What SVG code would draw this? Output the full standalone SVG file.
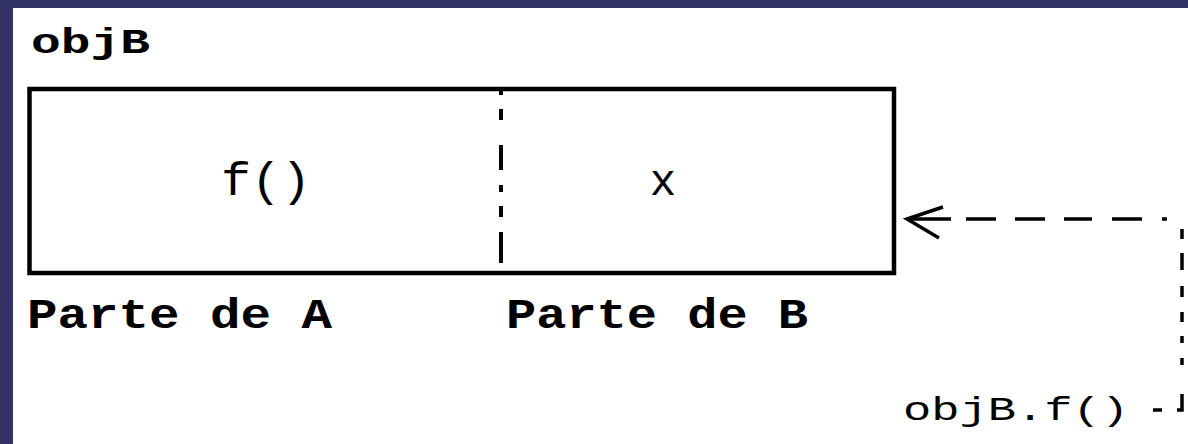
<svg xmlns="http://www.w3.org/2000/svg" width="1188" height="444" viewBox="0 0 1188 444">
  <style>
    .lbl { font-family: "Liberation Mono", "Courier New", monospace; fill: #000; }
    .bold { font-weight: bold; }
    .line { fill: none; stroke: #000; }
  </style>
  <defs>
    <marker id="arrow" markerUnits="userSpaceOnUse" viewBox="-40 -24 44 48" markerWidth="44" markerHeight="48" refX="0" refY="0" orient="auto" overflow="visible">
      <path d="M-36 12 L0 0 L-32 -19" fill="none" stroke="#000" stroke-width="3.5"/>
    </marker>
  </defs>
  <rect x="0" y="0" width="1188" height="444" fill="#333366"/>
  <rect x="13" y="8" width="1175" height="436" fill="#ffffff"/>

  <g id="title">
    <text class="lbl bold" x="31" y="53" font-size="35" textLength="119" lengthAdjust="spacingAndGlyphs">objB</text>
  </g>

  <g id="objB">
    <rect class="line" x="29.5" y="89" width="864.5" height="184" stroke-width="4.5"/>
    <path class="line" stroke-width="4" d="M501 89 V95 M501 109 V120 M501 145 V170 M501 185 V192 M501 206 V217 M501 232 V263"/>
    <text class="lbl" x="221" y="195" font-size="46" textLength="90" lengthAdjust="spacingAndGlyphs">f()</text>
    <text class="lbl" x="663" y="195" font-size="44" text-anchor="middle">x</text>
  </g>

  <g id="parteA">
    <text class="lbl bold" x="27" y="328" font-size="42" textLength="305" lengthAdjust="spacingAndGlyphs">Parte de A</text>
  </g>
  <g id="parteB">
    <text class="lbl bold" x="506" y="328" font-size="42" textLength="302" lengthAdjust="spacingAndGlyphs">Parte de B</text>
  </g>

  <g id="call">
    <text class="lbl" x="903" y="420" font-size="34" textLength="226" lengthAdjust="spacingAndGlyphs">objB.f()</text>
  </g>

  <g id="connectors">
    <path class="line" stroke-width="3.5" d="M1153 410 H1182 V219 H907" stroke-dasharray="9 15 21 29 7 15 7 14 10 15 11 16 17 14 10 25 5 20 30 20 28 19 30 19 30 15 45" marker-end="url(#arrow)"/>
  </g>
</svg>
